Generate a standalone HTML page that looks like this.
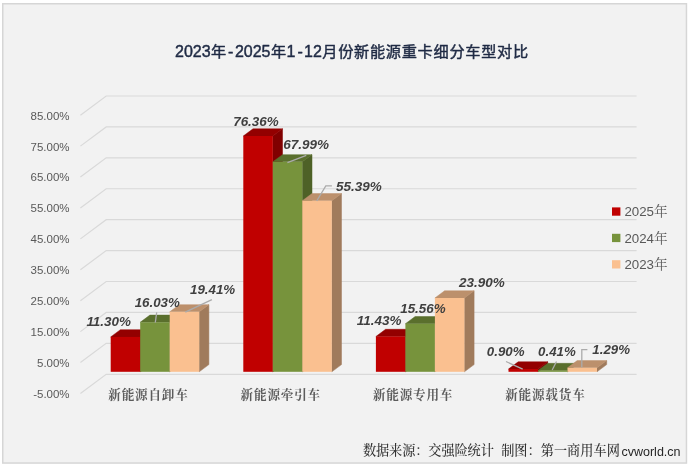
<!DOCTYPE html>
<html lang="zh-CN"><head><meta charset="utf-8"><title>2023年-2025年1-12月份新能源重卡细分车型对比</title>
<style>
html,body{margin:0;padding:0;background:#fff;}
body{width:688px;height:466px;overflow:hidden;}
svg{display:block;}
.sans{font-family:"Liberation Sans","Noto Sans CJK SC",sans-serif;}
.serif{font-family:"Liberation Serif","Noto Serif CJK SC",serif;}
</style></head><body>
<svg width="688" height="466" viewBox="0 0 688 466">
<rect x="0" y="0" width="688" height="466" fill="#ffffff"/>
<rect x="2.75" y="3.75" width="683.7" height="459.3" fill="#F2F2F2" stroke="#D6D6D6" stroke-width="1.5"/>

<g fill="none" stroke="#D9D9D9" stroke-width="1.2">
<polyline points="80.4,115.20 106.2,96.00 636.6,96.00"/>
<polyline points="80.4,146.12 106.2,126.92 636.6,126.92"/>
<polyline points="80.4,177.04 106.2,157.84 636.6,157.84"/>
<polyline points="80.4,207.96 106.2,188.76 636.6,188.76"/>
<polyline points="80.4,238.88 106.2,219.68 636.6,219.68"/>
<polyline points="80.4,269.80 106.2,250.60 636.6,250.60"/>
<polyline points="80.4,300.72 106.2,281.52 636.6,281.52"/>
<polyline points="80.4,331.64 106.2,312.44 636.6,312.44"/>
<polyline points="80.4,362.56 106.2,343.36 636.6,343.36"/>
<polyline points="80.4,393.48 106.2,374.28 636.6,374.28"/>
</g>
<g class="sans" font-size="11.5" fill="#595959" text-anchor="end">
<text x="69.6" y="119.60">85.00%</text>
<text x="69.6" y="150.52">75.00%</text>
<text x="69.6" y="181.44">65.00%</text>
<text x="69.6" y="212.36">55.00%</text>
<text x="69.6" y="243.28">45.00%</text>
<text x="69.6" y="274.20">35.00%</text>
<text x="69.6" y="305.12">25.00%</text>
<text x="69.6" y="336.04">15.00%</text>
<text x="69.6" y="366.96">5.00%</text>
<text x="69.6" y="397.88">-5.00%</text>
</g>
<polygon points="140.20,336.91 149.90,329.71 149.90,364.60 140.20,371.80" fill="#800000" stroke="#800000" stroke-width="0.5" stroke-linejoin="round"/>
<polygon points="110.70,336.91 120.40,329.71 149.90,329.71 140.20,336.91" fill="#930000" stroke="#930000" stroke-width="0.5" stroke-linejoin="round"/>
<rect x="110.70" y="336.91" width="29.50" height="34.89" fill="#C00000"/>
<polygon points="169.70,322.30 179.40,315.10 179.40,364.60 169.70,371.80" fill="#4E6127" stroke="#4E6127" stroke-width="0.5" stroke-linejoin="round"/>
<polygon points="140.20,322.30 149.90,315.10 179.40,315.10 169.70,322.30" fill="#5A6F2D" stroke="#5A6F2D" stroke-width="0.5" stroke-linejoin="round"/>
<rect x="140.20" y="322.30" width="29.50" height="49.50" fill="#77933C"/>
<polygon points="199.20,311.86 208.90,304.66 208.90,364.60 199.20,371.80" fill="#A07B5C" stroke="#A07B5C" stroke-width="0.5" stroke-linejoin="round"/>
<polygon points="169.70,311.86 179.40,304.66 208.90,304.66 199.20,311.86" fill="#BC906C" stroke="#BC906C" stroke-width="0.5" stroke-linejoin="round"/>
<rect x="169.70" y="311.86" width="29.50" height="59.94" fill="#FAC090"/>
<polygon points="272.80,136.00 282.50,128.80 282.50,364.60 272.80,371.80" fill="#800000" stroke="#800000" stroke-width="0.5" stroke-linejoin="round"/>
<polygon points="243.30,136.00 253.00,128.80 282.50,128.80 272.80,136.00" fill="#930000" stroke="#930000" stroke-width="0.5" stroke-linejoin="round"/>
<rect x="243.30" y="136.00" width="29.50" height="235.80" fill="#C00000"/>
<polygon points="302.30,161.85 312.00,154.65 312.00,364.60 302.30,371.80" fill="#4E6127" stroke="#4E6127" stroke-width="0.5" stroke-linejoin="round"/>
<polygon points="272.80,161.85 282.50,154.65 312.00,154.65 302.30,161.85" fill="#5A6F2D" stroke="#5A6F2D" stroke-width="0.5" stroke-linejoin="round"/>
<rect x="272.80" y="161.85" width="29.50" height="209.95" fill="#77933C"/>
<polygon points="331.80,200.76 341.50,193.56 341.50,364.60 331.80,371.80" fill="#A07B5C" stroke="#A07B5C" stroke-width="0.5" stroke-linejoin="round"/>
<polygon points="302.30,200.76 312.00,193.56 341.50,193.56 331.80,200.76" fill="#BC906C" stroke="#BC906C" stroke-width="0.5" stroke-linejoin="round"/>
<rect x="302.30" y="200.76" width="29.50" height="171.04" fill="#FAC090"/>
<polygon points="405.40,336.50 415.10,329.30 415.10,364.60 405.40,371.80" fill="#800000" stroke="#800000" stroke-width="0.5" stroke-linejoin="round"/>
<polygon points="375.90,336.50 385.60,329.30 415.10,329.30 405.40,336.50" fill="#930000" stroke="#930000" stroke-width="0.5" stroke-linejoin="round"/>
<rect x="375.90" y="336.50" width="29.50" height="35.30" fill="#C00000"/>
<polygon points="434.90,323.75 444.60,316.55 444.60,364.60 434.90,371.80" fill="#4E6127" stroke="#4E6127" stroke-width="0.5" stroke-linejoin="round"/>
<polygon points="405.40,323.75 415.10,316.55 444.60,316.55 434.90,323.75" fill="#5A6F2D" stroke="#5A6F2D" stroke-width="0.5" stroke-linejoin="round"/>
<rect x="405.40" y="323.75" width="29.50" height="48.05" fill="#77933C"/>
<polygon points="464.40,298.00 474.10,290.80 474.10,364.60 464.40,371.80" fill="#A07B5C" stroke="#A07B5C" stroke-width="0.5" stroke-linejoin="round"/>
<polygon points="434.90,298.00 444.60,290.80 474.10,290.80 464.40,298.00" fill="#BC906C" stroke="#BC906C" stroke-width="0.5" stroke-linejoin="round"/>
<rect x="434.90" y="298.00" width="29.50" height="73.80" fill="#FAC090"/>
<polygon points="538.00,369.02 547.70,361.82 547.70,364.60 538.00,371.80" fill="#800000" stroke="#800000" stroke-width="0.5" stroke-linejoin="round"/>
<polygon points="508.50,369.02 518.20,361.82 547.70,361.82 538.00,369.02" fill="#930000" stroke="#930000" stroke-width="0.5" stroke-linejoin="round"/>
<rect x="508.50" y="369.02" width="29.50" height="2.78" fill="#C00000"/>
<polygon points="567.50,370.53 577.20,363.33 577.20,364.60 567.50,371.80" fill="#4E6127" stroke="#4E6127" stroke-width="0.5" stroke-linejoin="round"/>
<polygon points="538.00,370.53 547.70,363.33 577.20,363.33 567.50,370.53" fill="#5A6F2D" stroke="#5A6F2D" stroke-width="0.5" stroke-linejoin="round"/>
<rect x="538.00" y="370.53" width="29.50" height="1.27" fill="#77933C"/>
<polygon points="597.00,367.82 606.70,360.62 606.70,364.60 597.00,371.80" fill="#A07B5C" stroke="#A07B5C" stroke-width="0.5" stroke-linejoin="round"/>
<polygon points="567.50,367.82 577.20,360.62 606.70,360.62 597.00,367.82" fill="#BC906C" stroke="#BC906C" stroke-width="0.5" stroke-linejoin="round"/>
<rect x="567.50" y="367.82" width="29.50" height="3.98" fill="#FAC090"/>
<g fill="none" stroke="#ABABAB" stroke-width="1.3">
<polyline points="156.7,312.3 155.3,322.5"/>
<polyline points="211.9,299.7 185.3,312.2"/>
<polyline points="306.3,155.3 287.4,162.6"/>
<polyline points="331.9,185.8 325.8,185.8 316.7,201"/>
<polyline points="506,361.5 522.7,369.2"/>
<polyline points="556.5,361.5 552.2,370"/>
<polyline points="587.4,349.7 581.8,349.7 581.8,367.2"/>
</g>
<g class="sans" font-size="12.2" font-weight="bold" font-style="italic" fill="#404040">
<text x="86.4" y="325.8" textLength="44.6" lengthAdjust="spacingAndGlyphs">11.30%</text>
<text x="134.7" y="307.0" textLength="45.1" lengthAdjust="spacingAndGlyphs">16.03%</text>
<text x="190.0" y="293.8" textLength="45.2" lengthAdjust="spacingAndGlyphs">19.41%</text>
<text x="233.2" y="126.2" textLength="45.5" lengthAdjust="spacingAndGlyphs">76.36%</text>
<text x="283.3" y="149.2" textLength="45.8" lengthAdjust="spacingAndGlyphs">67.99%</text>
<text x="336.0" y="190.9" textLength="45.8" lengthAdjust="spacingAndGlyphs">55.39%</text>
<text x="356.7" y="325.1" textLength="44.7" lengthAdjust="spacingAndGlyphs">11.43%</text>
<text x="400.2" y="312.5" textLength="45.4" lengthAdjust="spacingAndGlyphs">15.56%</text>
<text x="459.0" y="286.5" textLength="45.7" lengthAdjust="spacingAndGlyphs">23.90%</text>
<text x="486.8" y="356.2" textLength="37.7" lengthAdjust="spacingAndGlyphs">0.90%</text>
<text x="538.1" y="356.2" textLength="37.6" lengthAdjust="spacingAndGlyphs">0.41%</text>
<text x="592.3" y="354.3" textLength="37.7" lengthAdjust="spacingAndGlyphs">1.29%</text>
</g>
<g class="serif" font-size="12.6" letter-spacing="0.8" font-weight="bold" fill="#5C5C5C">
<text x="108.3" y="399.0">新能源自卸车</text>
<text x="240.6" y="399.0">新能源牵引车</text>
<text x="372.9" y="399.0">新能源专用车</text>
<text x="505.2" y="399.0">新能源载货车</text>
</g>
<text class="sans" y="56.8" font-weight="normal" fill="#1F2A44" stroke="#1F2A44" stroke-width="0.45" stroke-linejoin="round"><tspan x="175.0" font-size="16">2023</tspan><tspan x="211.0" font-size="15.2">年</tspan><tspan x="227.9" font-size="16">-</tspan><tspan x="234.9" font-size="16">2025</tspan><tspan x="270.9" font-size="15.2">年</tspan><tspan x="286.5" font-size="16">1</tspan><tspan x="297.6" font-size="16">-</tspan><tspan x="304.1" font-size="16">12</tspan><tspan x="322.3" font-size="15.2" letter-spacing="0.7">月份新能源重卡细分车型对比</tspan></text>
<rect x="612" y="207.4" width="8.4" height="8.3" fill="#C00000"/>
<text x="624.4" y="216.2" fill="#595959"><tspan class="sans" font-size="13.3">2025</tspan><tspan class="serif" font-size="13.7">年</tspan></text>
<rect x="612" y="233.8" width="8.4" height="8.3" fill="#77933C"/>
<text x="624.4" y="242.6" fill="#595959"><tspan class="sans" font-size="13.3">2024</tspan><tspan class="serif" font-size="13.7">年</tspan></text>
<rect x="612" y="260.2" width="8.4" height="8.3" fill="#FAC090"/>
<text x="624.4" y="269.0" fill="#595959"><tspan class="sans" font-size="13.3">2023</tspan><tspan class="serif" font-size="13.7">年</tspan></text>
<text y="455" fill="#333333" font-weight="500"><tspan class="serif" font-size="13.2" x="362.9" letter-spacing="-0.1">数据来源：交强险统计</tspan><tspan class="serif" font-size="13.2" x="501.2">制图：第一商用车网</tspan><tspan class="sans" font-weight="normal" font-size="13.3" fill="#262626" x="621.4" dy="0.5" textLength="59.2" lengthAdjust="spacingAndGlyphs">cvworld.cn</tspan></text>
</svg>
</body></html>
